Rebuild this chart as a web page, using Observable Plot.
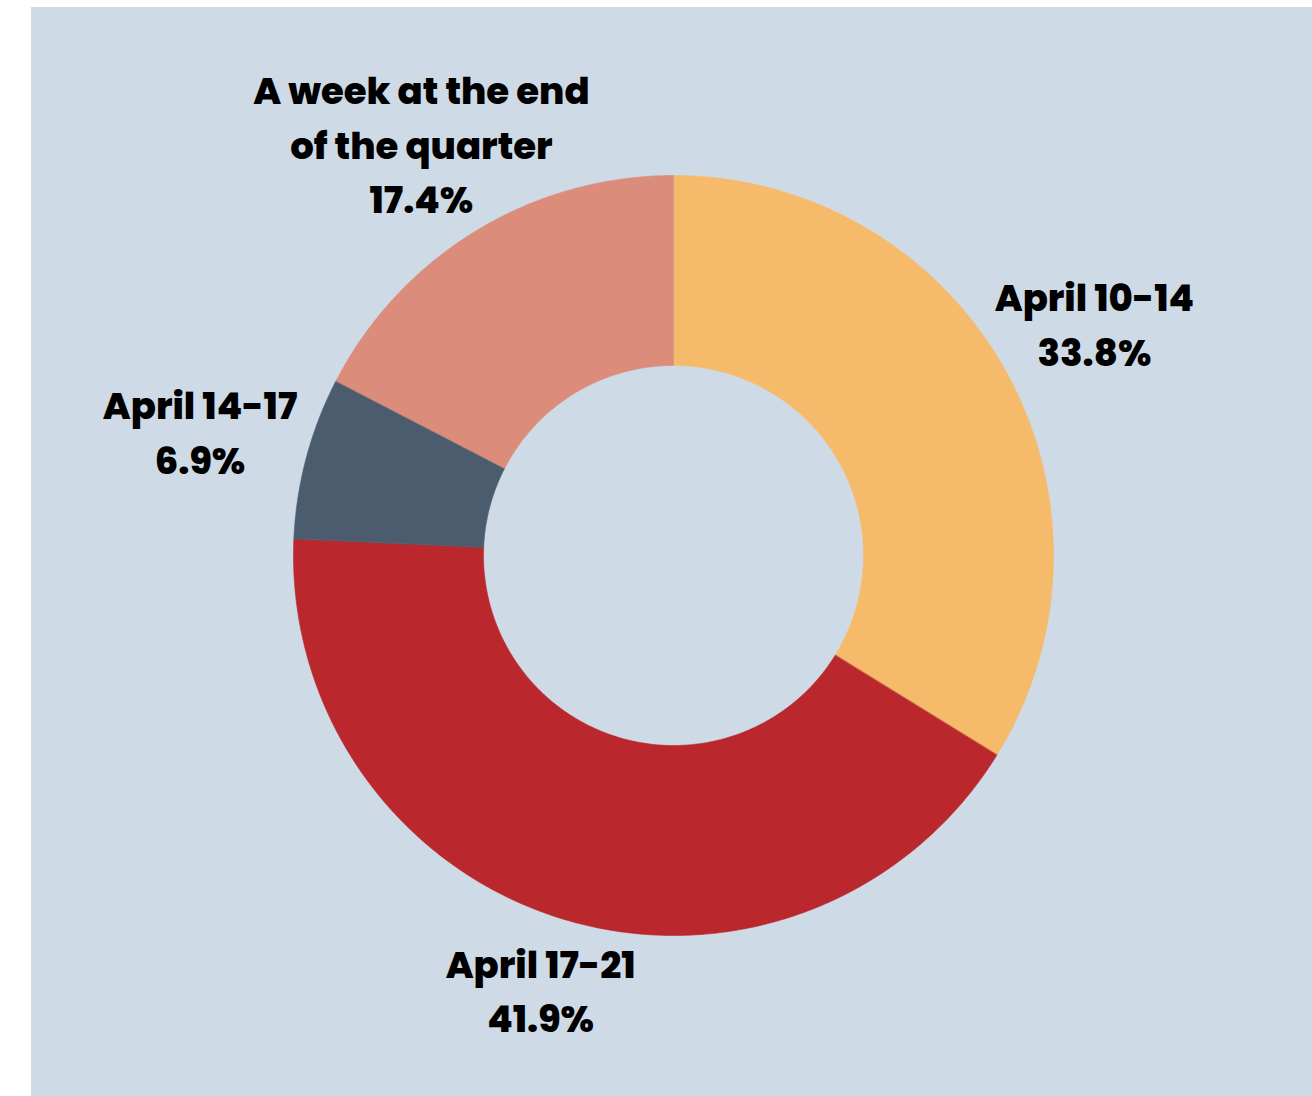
<!DOCTYPE html>
<html>
<head>
<meta charset="utf-8">
<script src="https://cdn.jsdelivr.net/npm/d3@7"></script>
<script src="https://cdn.jsdelivr.net/npm/@observablehq/plot@0.6"></script>
<style>
  html, body { margin: 0; padding: 0; background: #ffffff; }
  #panel { position: absolute; left: 31px; top: 7px; width: 1281px; height: 1089px; background: #CEDAE6; overflow: hidden; }
  #panel svg { display: block; }
</style>
</head>
<body>
<div id="panel"></div>
<script>
// Data
const categories = ["April 10-14", "April 17-21", "April 14-17", "A week at the end\nof the quarter"];
const values = [33.8, 41.9, 6.9, 17.4];
const colors = ["#F6BB6A", "#BA272D", "#4A5C6E", "#DB8C7B"];

// Layout constants (data units = pixels)
const W = 1281, H = 1089;
const cx = 642, cy = 548;
const rOuter = 380, rInner = 190;
const labelRadius = [482, 452, 490, 485];

const total = d3.sum(values);
let acc = 0;
const slices = values.map((v, i) => {
  const a0 = acc / total * 2 * Math.PI;
  acc += v;
  const a1 = acc / total * 2 * Math.PI;
  return {cat: categories[i], value: v, color: colors[i], a0, a1};
});

// polygon points for each ring segment
const pts = [];
slices.forEach((s, i) => {
  const n = Math.max(8, Math.ceil((s.a1 - s.a0) / (Math.PI / 360)));
  for (let k = 0; k <= n; k++) {
    const a = s.a0 + (s.a1 - s.a0) * k / n;
    pts.push({i, x: rOuter * Math.sin(a), y: -rOuter * Math.cos(a)});
  }
  for (let k = n; k >= 0; k--) {
    const a = s.a0 + (s.a1 - s.a0) * k / n;
    pts.push({i, x: rInner * Math.sin(a), y: -rInner * Math.cos(a)});
  }
});

const labels = slices.map((s, i) => {
  const a = (s.a0 + s.a1) / 2;
  const r = labelRadius[i];
  return {text: `${s.cat}\n${s.value.toFixed(1)}%`, x: r * Math.sin(a), y: -r * Math.cos(a)};
});

const chart = Plot.plot({
  width: W,
  height: H,
  margin: 0,
  style: {background: "transparent", fontFamily: "Poppins, Inter, sans-serif", overflow: "visible"},
  x: {domain: [-cx, W - cx], range: [0, W], axis: null},
  y: {domain: [-cy, H - cy], range: [0, H], axis: null},
  marks: [
    Plot.line(pts, {x: "x", y: "y", z: "i", fill: d => colors[d.i], stroke: d => colors[d.i], strokeWidth: 0.6, curve: "linear-closed"}),
    Plot.text(labels, {x: "x", y: "y", text: "text", fontSize: 37, fontWeight: 800, fill: "#000", lineHeight: 1.48, textAnchor: "middle"})
  ]
});
document.getElementById("panel").appendChild(chart);
</script>
</body>
</html>
